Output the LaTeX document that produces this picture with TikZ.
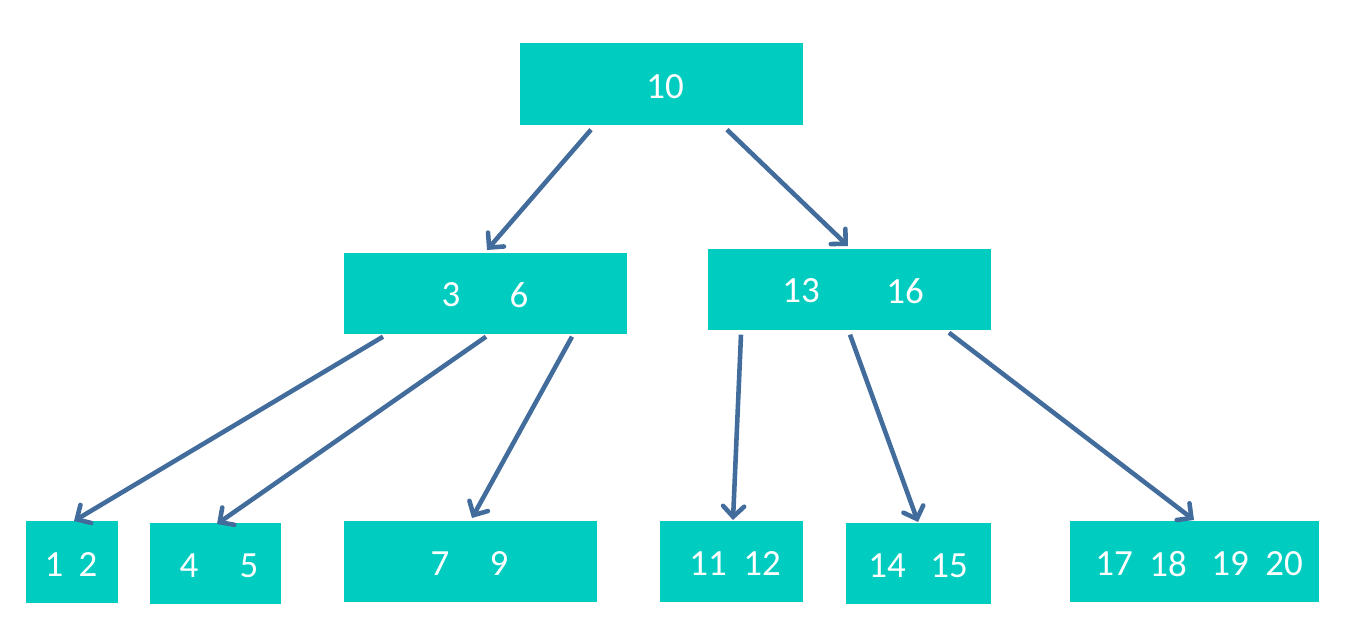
\documentclass[tikz,border=0pt]{standalone}
\usepackage{fontspec}
\setmainfont{Carlito}
\usetikzlibrary{arrows.meta}
\definecolor{boxc}{RGB}{0,204,192}
\definecolor{arrc}{RGB}{65,108,156}
\tikzset{
  key/.style={draw=none, fill=boxc, text=white, anchor=north west, inner sep=0pt},
  num/.style={text=white, font=\fontsize{21}{25}\selectfont},
  link/.style={-{Straight Barb[length=6pt, width=12pt, line cap=round]}, arrc, line width=2.6pt},
}

\begin{document}
\begin{tikzpicture}[x=0.02cm, y=-0.02cm]
  \useasboundingbox (0,0) rectangle (1349,623);
  % root
  \node[key, minimum width=5.66cm, minimum height=1.64cm] (root) at (520,43) {};
  \node[num] (k10) at (665,87) {10};
  % second level
  \node[key, minimum width=5.66cm, minimum height=1.62cm] (left) at (344,253) {};
  \node[num] (k3) at (451,295) {3};
  \node[num] (k6) at (519,295) {6};
  \node[key, minimum width=5.66cm, minimum height=1.62cm] (right) at (708,249) {};
  \node[num] (k13) at (801,291) {13};
  \node[num] (k16) at (905,291) {16};
  % leaves
  \node[key, minimum width=1.84cm, minimum height=1.64cm] (leafa) at (26,521) {};
  \node[num] (k1) at (54,565) {1};
  \node[num] (k2) at (88,565) {2};
  \node[key, minimum width=2.62cm, minimum height=1.62cm] (leafb) at (150,523) {};
  \node[num] (k4) at (189,566) {4};
  \node[num] (k5) at (249,566) {5};
  \node[key, minimum width=5.06cm, minimum height=1.62cm] (leafc) at (344,521) {};
  \node[num] (k7) at (440,564) {7};
  \node[num] (k9) at (499,564) {9};
  \node[key, minimum width=2.86cm, minimum height=1.62cm] (leafd) at (660,521) {};
  \node[num] (k11) at (708,564) {11};
  \node[num] (k12) at (762,564) {12};
  \node[key, minimum width=2.9cm, minimum height=1.62cm] (leafe) at (846,523) {};
  \node[num] (k14) at (887,566) {14};
  \node[num] (k15) at (949,566) {15};
  \node[key, minimum width=4.98cm, minimum height=1.62cm] (leaff) at (1070,521) {};
  \node[num] (k17) at (1114,564) {17};
  \node[num] (k18) at (1168,564) {18};
  \node[num] (k19) at (1230,564) {19};
  \node[num] (k20) at (1284,564) {20};
  % pointers
  \draw[link] ([shift={(71,4)}]root.south west) -- ([shift={(143,-3)}]left.north west);
  \draw[link] ([shift={(207,4)}]root.south west) -- ([shift={(140,-3)}]right.north west);
  \draw[link] ([shift={(39,2)}]left.south west) -- ([shift={(48,0)}]leafa.north west);
  \draw[link] ([shift={(142,2)}]left.south west) -- ([shift={(67,1)}]leafb.north west);
  \draw[link] ([shift={(228,2)}]left.south west) -- ([shift={(128,-3)}]leafc.north west);
  \draw[link] ([shift={(33,4)}]right.south west) -- ([shift={(73,-1)}]leafd.north west);
  \draw[link] ([shift={(142,4)}]right.south west) -- ([shift={(72,-1)}]leafe.north west);
  \draw[link] ([shift={(241,2)}]right.south west) -- ([shift={(124,-1)}]leaff.north west);
\end{tikzpicture}
\end{document}
